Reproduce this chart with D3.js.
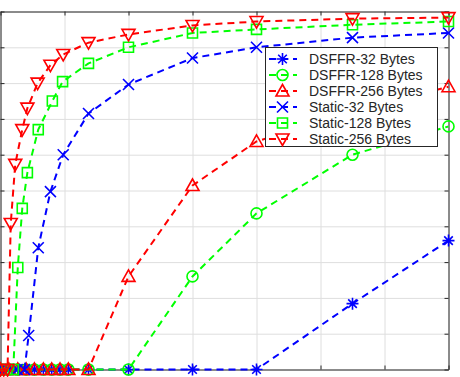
<!DOCTYPE html>
<html>
<head>
<meta charset="utf-8">
<script src="https://cdn.jsdelivr.net/npm/d3@7"></script>
<style>
html,body{margin:0;padding:0;background:#fff;}
svg{display:block;}
</style>
</head>
<body>
<svg id="chart" width="460" height="377"></svg>
<script>
// ---- data ----
const seriesNames = ["DSFFR-32 Bytes","DSFFR-128 Bytes","DSFFR-256 Bytes","Static-32 Bytes","Static-128 Bytes","Static-256 Bytes"];
const xTicks = [0,1,2,3,4,5,6,7];
const yTicks = [0,0.1,0.2,0.3,0.4,0.5,0.6,0.7,0.8,0.9,1];

const xDsffr = [0,0.13,0.27,0.4,0.53,0.67,0.8,0.93,1.06,1.375,2,3,4,5.5,7];
const yDsffr32  = [0,0,0,0,0,0,0,0,0,0,0,0,0,0.184,0.36];
const yDsffr128 = [0,0,0,0,0,0,0,0,0,0,0,0.26,0.436,0.60,0.679];
const yDsffr256 = [0,0,0,0,0,0,0,0,0,0,0.26,0.514,0.637,0.72,0.79];

const xStatic32  = [0,0.13,0.26,0.375,0.44,0.59,0.78,0.98,1.375,2,3,4,5.5,7];
const yStatic32  = [0,0,0,0,0.095,0.34,0.497,0.60,0.715,0.796,0.87,0.90,0.927,0.94];
const xStatic128 = [0,0.1,0.2,0.27,0.34,0.42,0.59,0.81,0.97,1.375,2,3,4,5.5,7];
const yStatic128 = [0,0,0,0.285,0.45,0.55,0.67,0.75,0.804,0.855,0.90,0.94,0.95,0.963,0.972];
const xStatic256 = [0,0.05,0.11,0.16,0.23,0.34,0.42,0.58,0.78,0.98,1.375,2,3,4,5.5,7];
const yStatic256 = [0,0,0,0.408,0.573,0.67,0.73,0.80,0.85,0.88,0.913,0.936,0.961,0.972,0.98,0.983];

const colors = ["#0000ff","#00ff00","#ff0000","#0000ff","#00ff00","#ff0000"];
const markers = ["star","circle","triUp","x","square","triDown"];
const xs = [xDsffr,xDsffr,xDsffr,xStatic32,xStatic128,xStatic256];
const ys = [yDsffr32,yDsffr128,yDsffr256,yStatic32,yStatic128,yStatic256];

// ---- layout ----
const svg = d3.select("#chart");
const L = 0.5, T = 11.5, W = 448, H = 358;
const x = d3.scaleLinear().domain([0,7]).range([L, L+W]);
const y = d3.scaleLinear().domain([0,1]).range([T+H, T]);

const g = svg.append("g");

// grid
g.append("g").attr("transform",`translate(0,${T+H})`)
  .call(d3.axisBottom(x).tickValues(xTicks).tickSize(-H).tickFormat(""))
  .call(s=>{s.select(".domain").remove(); s.selectAll("line").attr("stroke","#dedede").attr("stroke-width",1);});
g.append("g").attr("transform",`translate(${L},0)`)
  .call(d3.axisLeft(y).tickValues(yTicks).tickSize(-W).tickFormat(""))
  .call(s=>{s.select(".domain").remove(); s.selectAll("line").attr("stroke","#dedede").attr("stroke-width",1);});

// axes box with inward ticks
const axCol = "#262626";
function styleAx(s){ s.selectAll("line").attr("stroke",axCol); s.select(".domain").attr("stroke",axCol); }
g.append("g").attr("transform",`translate(0,${T+H})`)
  .call(d3.axisBottom(x).tickValues(xTicks).tickSizeInner(-4).tickSizeOuter(0).tickFormat("")).call(styleAx);
g.append("g").attr("transform",`translate(0,${T})`)
  .call(d3.axisTop(x).tickValues(xTicks).tickSizeInner(-4).tickSizeOuter(0).tickFormat("")).call(styleAx);
g.append("g").attr("transform",`translate(${L},0)`)
  .call(d3.axisLeft(y).tickValues(yTicks).tickSizeInner(-4).tickSizeOuter(0).tickFormat("")).call(styleAx);
g.append("g").attr("transform",`translate(${L+W},0)`)
  .call(d3.axisRight(y).tickValues(yTicks).tickSizeInner(-4).tickSizeOuter(0).tickFormat("")).call(styleAx);

// marker paths
function markerPath(type){
  switch(type){
    case "star": { const s=6, a=4.3; return `M${-s},0H${s}M0,${-s}V${s}M${-a},${-a}L${a},${a}M${-a},${a}L${a},${-a}`; }
    case "circle": { const r=5.5; return `M${r},0A${r},${r} 0 1,1 ${-r},0A${r},${r} 0 1,1 ${r},0Z`; }
    case "triUp": return "M0,-6.5L6.5,5L-6.5,5Z";
    case "triDown": return "M0,6.5L6.5,-5L-6.5,-5Z";
    case "x": { const s=5.5; return `M${-s},${-s}L${s},${s}M${-s},${s}L${s},${-s}`; }
    case "square": return "M-5,-5H5V5H-5Z";
  }
}

const line = d3.line().x(d=>x(d[0])).y(d=>y(d[1]));
seriesNames.forEach((name,i)=>{
  const pts = xs[i].map((xv,j)=>[xv, ys[i][j]]);
  const sg = g.append("g");
  sg.append("path").attr("d", line(pts)).attr("fill","none")
    .attr("stroke", colors[i]).attr("stroke-width",2).attr("stroke-dasharray","7,5");
  sg.selectAll("path.m").data(pts).enter().append("path").attr("class","m")
    .attr("transform", d=>`translate(${x(d[0])},${y(d[1])})`)
    .attr("d", markerPath(markers[i])).attr("fill","none")
    .attr("stroke", colors[i]).attr("stroke-width",1.6);
});

// legend
const lg = svg.append("g");
lg.append("rect").attr("x",265.5).attr("y",47.5).attr("width",172).attr("height",99)
  .attr("fill","#fff").attr("stroke",axCol).attr("stroke-width",1);
seriesNames.forEach((name,i)=>{
  const cy = 59 + i*16;
  lg.append("line").attr("x1",268).attr("x2",297).attr("y1",cy).attr("y2",cy)
    .attr("stroke",colors[i]).attr("stroke-width",2).attr("stroke-dasharray","7,5").attr("stroke-dashoffset",-1);
  lg.append("path").attr("transform",`translate(282.5,${cy})`).attr("d",markerPath(markers[i]))
    .attr("fill","none").attr("stroke",colors[i]).attr("stroke-width",1.6);
  lg.append("text").attr("x",309).attr("y",cy+5).text(name)
    .attr("font-family","Liberation Sans, Arial, sans-serif").attr("font-size",14).attr("fill","#262626");
});
</script>
</body>
</html>
